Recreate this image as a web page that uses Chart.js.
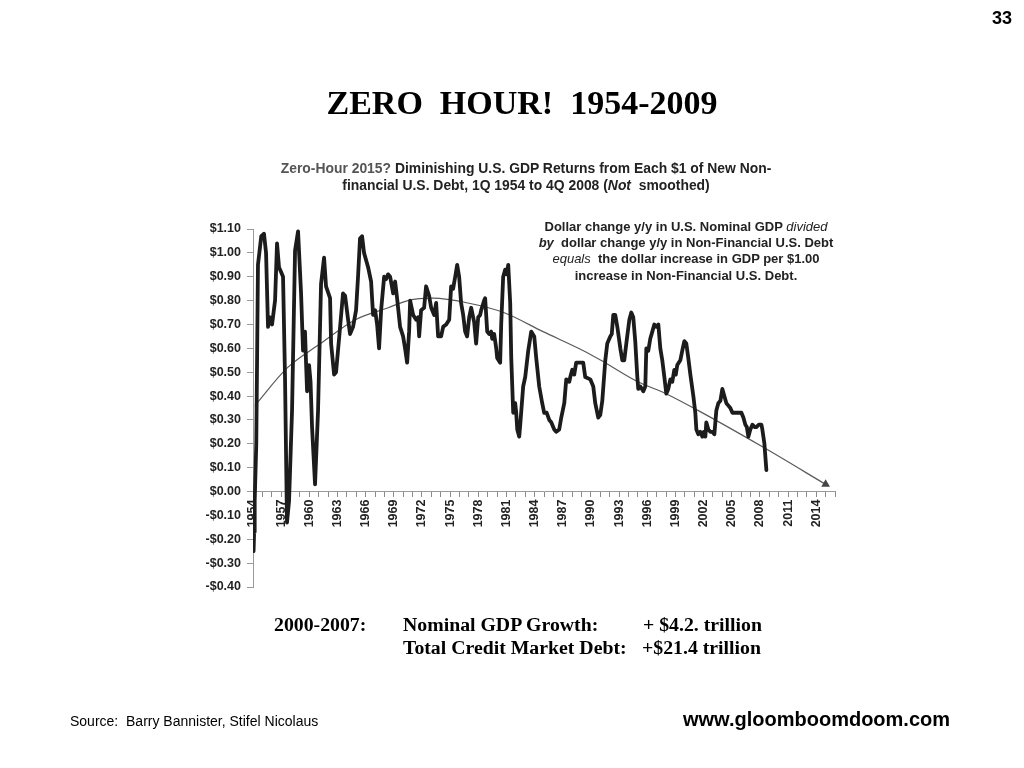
<!DOCTYPE html>
<html>
<head>
<meta charset="utf-8">
<script src="https://cdn.jsdelivr.net/npm/chart.js@4.4.1/dist/chart.umd.min.js"></script>
<style>
  html, body { margin:0; padding:0; background:#fff; }
  body { width:1024px; height:768px; position:relative; overflow:hidden; }
  canvas { position:absolute; left:0; top:0; }
  .t { position:absolute; white-space:nowrap; color:#000; }
  .sans { font-family:"Liberation Sans", Arial, sans-serif; }
  .serif { font-family:"Liberation Serif", "Times New Roman", serif; }
</style>
</head>
<body>
<canvas id="c" width="1024" height="768"></canvas>

<div class="t sans" style="right:12px; top:8px; font-size:18px; font-weight:bold;">33</div>
<div class="t serif" style="left:0; width:1044px; text-align:center; top:83px; font-size:34px; font-weight:bold; line-height:40px;">ZERO&nbsp; HOUR!&nbsp; 1954-2009</div>

<div class="t sans" style="left:0; width:1052px; text-align:center; top:160px; font-size:13.9px; font-weight:bold; line-height:17px; color:#222;">
  <span style="color:#555;">Zero-Hour 2015?</span> Diminishing U.S. GDP Returns from Each $1 of New Non-<br>
  financial U.S. Debt, 1Q 1954 to 4Q 2008 (<i>Not</i>&nbsp; smoothed)
</div>

<div class="t sans" style="left:486px; width:400px; text-align:center; top:219px; font-size:13px; font-weight:bold; line-height:16.2px; color:#222;">
  Dollar change y/y in U.S. Nominal GDP <i style="font-weight:normal;">divided</i><br>
  <i>by</i>&nbsp; dollar change y/y in Non-Financial U.S. Debt<br>
  <i style="font-weight:normal;">equals</i>&nbsp; the dollar increase in GDP per $1.00<br>
  increase in Non-Financial U.S. Debt.
</div>

<div class="t serif" style="left:274px; top:612px; font-size:19.8px; font-weight:bold; line-height:24px;">2000-2007:</div>
<div class="t serif" style="left:403px; top:612px; font-size:19.8px; font-weight:bold; line-height:24px;">Nominal GDP Growth:</div>
<div class="t serif" style="left:643px; top:612px; font-size:19.8px; font-weight:bold; line-height:24px;">+ $4.2. trillion</div>
<div class="t serif" style="left:403px; top:635px; font-size:19.8px; font-weight:bold; line-height:24px;">Total Credit Market Debt:</div>
<div class="t serif" style="left:642px; top:635px; font-size:19.8px; font-weight:bold; line-height:24px;">+$21.4 trillion</div>

<div class="t sans" style="left:70px; top:712px; font-size:14px; line-height:18px;">Source:&nbsp; Barry Bannister, Stifel Nicolaus</div>
<div class="t sans" style="left:683px; top:707px; font-size:20px; font-weight:bold; line-height:25px;">www.gloomboomdoom.com</div>

<script>
// Quarterly-ish observations (decimal year) of GDP $ gained per $1 of new non-financial debt
const dates = [
  1954.00, 1954.06, 1954.12, 1954.18, 1954.35, 1954.53, 1954.88, 1955.17, 1955.39, 1955.60,
  1955.81, 1956.03, 1956.35, 1956.56, 1956.77, 1956.99, 1957.20, 1957.41, 1957.62, 1957.84,
  1958.16, 1958.48, 1958.80, 1959.12, 1959.33, 1959.54, 1959.65, 1959.76, 1959.97, 1960.13,
  1960.29, 1960.61, 1960.93, 1961.25, 1961.57, 1961.78, 1962.21, 1962.32, 1962.64, 1962.85,
  1963.28, 1963.59, 1963.81, 1964.13, 1964.34, 1964.66, 1964.98, 1965.19, 1965.40, 1965.62,
  1965.83, 1966.26, 1966.58, 1966.79, 1967.01, 1967.22, 1967.43, 1967.65, 1967.97, 1968.18,
  1968.39, 1968.61, 1968.93, 1969.14, 1969.35, 1969.67, 1969.99, 1970.20, 1970.42, 1970.63,
  1970.74, 1971.06, 1971.38, 1971.59, 1971.70, 1971.91, 1972.23, 1972.44, 1972.76, 1972.98,
  1973.30, 1973.51, 1973.72, 1974.04, 1974.26, 1974.58, 1974.90, 1975.11, 1975.32, 1975.54,
  1975.75, 1975.96, 1976.17, 1976.39, 1976.60, 1976.81, 1977.03, 1977.24, 1977.56, 1977.77,
  1977.99, 1978.20, 1978.31, 1978.62, 1978.73, 1978.95, 1979.16, 1979.37, 1979.48, 1979.69,
  1979.91, 1980.01, 1980.33, 1980.44, 1980.65, 1980.87, 1981.03, 1981.19, 1981.40, 1981.51,
  1981.72, 1981.93, 1982.04, 1982.15, 1982.36, 1982.47, 1982.78, 1983.00, 1983.32, 1983.64,
  1983.96, 1984.17, 1984.49, 1984.81, 1985.02, 1985.29, 1985.56, 1985.77, 1986.09, 1986.30,
  1986.62, 1986.84, 1987.16, 1987.37, 1987.69, 1987.80, 1988.01, 1988.22, 1988.43, 1988.65,
  1988.97, 1989.18, 1989.39, 1989.93, 1990.25, 1990.46, 1990.78, 1990.99, 1991.21, 1991.53,
  1991.74, 1992.06, 1992.22, 1992.38, 1992.59, 1992.81, 1993.13, 1993.34, 1993.55, 1993.77,
  1994.09, 1994.30, 1994.51, 1994.72, 1994.94, 1995.04, 1995.26, 1995.58, 1995.79, 1995.90,
  1996.11, 1996.32, 1996.54, 1996.75, 1996.96, 1997.18, 1997.39, 1997.60, 1997.82, 1998.03,
  1998.24, 1998.46, 1998.67, 1998.88, 1999.04, 1999.20, 1999.52, 1999.73, 1999.95, 2000.16,
  2000.37, 2000.59, 2000.91, 2001.12, 2001.23, 2001.44, 2001.65, 2001.87, 2002.03, 2002.19,
  2002.29, 2002.51, 2002.72, 2002.93, 2003.15, 2003.36, 2003.57, 2003.79, 2004.00, 2004.21,
  2004.43, 2004.64, 2004.85, 2005.07, 2005.28, 2005.49, 2005.81, 2006.03, 2006.24, 2006.45,
  2006.61, 2006.77, 2006.98, 2007.20, 2007.46, 2007.62, 2007.89, 2008.16, 2008.26, 2008.48,
  2008.69
];
const ratio = [
  -0.15, -0.25, -0.17, -0.04, 0.20, 0.95, 1.07, 1.08, 1.00, 0.69,
  0.73, 0.70, 0.80, 1.04, 0.94, 0.92, 0.90, 0.48, -0.13, -0.04,
  0.34, 1.01, 1.09, 0.83, 0.59, 0.67, 0.54, 0.42, 0.53, 0.46,
  0.27, 0.03, 0.34, 0.87, 0.98, 0.86, 0.81, 0.62, 0.49, 0.50,
  0.69, 0.83, 0.82, 0.72, 0.66, 0.69, 0.76, 0.90, 1.06, 1.07,
  1.00, 0.94, 0.88, 0.74, 0.76, 0.70, 0.60, 0.76, 0.90, 0.89,
  0.91, 0.90, 0.83, 0.88, 0.81, 0.69, 0.65, 0.60, 0.54, 0.67,
  0.80, 0.74, 0.72, 0.73, 0.65, 0.76, 0.77, 0.86, 0.82, 0.77,
  0.74, 0.79, 0.65, 0.65, 0.69, 0.70, 0.72, 0.86, 0.85, 0.90,
  0.95, 0.90, 0.79, 0.74, 0.67, 0.65, 0.73, 0.77, 0.71, 0.62,
  0.73, 0.74, 0.76, 0.80, 0.81, 0.67, 0.66, 0.67, 0.64, 0.66,
  0.60, 0.56, 0.54, 0.70, 0.90, 0.93, 0.91, 0.95, 0.79, 0.56,
  0.33, 0.37, 0.33, 0.26, 0.23, 0.28, 0.44, 0.48, 0.59, 0.67,
  0.65, 0.56, 0.44, 0.37, 0.33, 0.33, 0.30, 0.29, 0.26, 0.25,
  0.26, 0.31, 0.37, 0.47, 0.46, 0.48, 0.51, 0.49, 0.54, 0.54,
  0.54, 0.54, 0.48, 0.47, 0.44, 0.37, 0.31, 0.32, 0.38, 0.55,
  0.62, 0.65, 0.66, 0.74, 0.74, 0.69, 0.60, 0.55, 0.55, 0.62,
  0.72, 0.75, 0.73, 0.63, 0.48, 0.43, 0.44, 0.42, 0.44, 0.60,
  0.59, 0.64, 0.67, 0.70, 0.69, 0.70, 0.60, 0.55, 0.48, 0.41,
  0.43, 0.47, 0.46, 0.51, 0.49, 0.53, 0.55, 0.59, 0.63, 0.62,
  0.56, 0.49, 0.40, 0.33, 0.26, 0.24, 0.25, 0.23, 0.25, 0.23,
  0.29, 0.26, 0.25, 0.25, 0.24, 0.34, 0.37, 0.38, 0.43, 0.40,
  0.37, 0.36, 0.35, 0.33, 0.33, 0.33, 0.33, 0.33, 0.31, 0.28,
  0.27, 0.23, 0.26, 0.28, 0.27, 0.27, 0.28, 0.28, 0.26, 0.20,
  0.09
];
// Polynomial trend line, ending with a marker in 2015
const trendYears  = [1954.2, 1957.7, 1961.2, 1964.9, 1968.4, 1970.5, 1973.2, 1976.9, 1980.7, 1984.9, 1989.2, 1991.5, 1995.0, 1998.0, 2001.4, 2008.6, 2015.0];
const trendValues = [0.36,   0.52,   0.62,   0.72,   0.77,   0.80,   0.81,   0.79,   0.75,   0.67,   0.59,   0.54,   0.46,   0.41,   0.34,   0.18,   0.03];
// Axis tick settings
const xFirstYear = 1954, xLastYear = 2016, xLabelStep = 3;
const yMin = -0.40, yMax = 1.10, yStep = 0.10;

const series = dates.map((d, i) => ({ x: d, y: ratio[i] }));
const trend = trendYears.map((d, i) => ({ x: d, y: trendValues[i] }));
const tickFont = { family: "'Liberation Sans', Arial, sans-serif", size: 12.5, weight: 'bold' };

new Chart(document.getElementById('c'), {
  type: 'line',
  data: {
    datasets: [
      {
        data: trend,
        borderColor: '#5a5a5a',
        backgroundColor: '#444',
        borderWidth: 1.2,
        tension: 0.4,
        cubicInterpolationMode: 'monotone',
        pointStyle: 'triangle',
        pointRadius: (ctx) => ctx.dataIndex === trend.length - 1 ? 5 : 0,
        pointBorderWidth: 0,
        order: 2
      },
      {
        data: series,
        borderColor: '#1c1c1c',
        borderWidth: 3.8,
        borderJoinStyle: 'round',
        borderCapStyle: 'round',
        tension: 0,
        pointRadius: 0,
        order: 1
      }
    ]
  },
  options: {
    responsive: false,
    animation: false,
    layout: { padding: { left: 190, top: 229, right: 189, bottom: 181 } },
    plugins: { legend: { display: false }, tooltip: { enabled: false }, title: { display: false } },
    scales: {
      x: {
        type: 'linear',
        position: { y: 0 },
        min: xFirstYear,
        max: xLastYear,
        afterBuildTicks: (scale) => {
          const t = [];
          for (let v = xFirstYear; v <= xLastYear; v++) t.push({ value: v });
          scale.ticks = t;
        },
        ticks: {
          autoSkip: false,
          minRotation: 90,
          maxRotation: 90,
          padding: 3,
          color: '#222',
          font: tickFont,
          callback: (v) => ((v - xFirstYear) % xLabelStep === 0 && v <= 2014) ? String(v) : ''
        },
        grid: { drawOnChartArea: false, tickLength: 5, color: '#8a8a8a' },
        border: { color: '#9a9a9a', width: 1 }
      },
      y: {
        min: yMin,
        max: yMax,
        afterFit: (scale) => { scale.width = 63; },
        ticks: {
          stepSize: yStep,
          padding: 6,
          color: '#222',
          font: tickFont,
          callback: (v) => {
            const a = Math.abs(v) < 1e-9 ? 0 : v;
            return (a < 0 ? '-$' : '$') + Math.abs(a).toFixed(2);
          }
        },
        grid: { drawOnChartArea: false, tickLength: 6, color: '#9a9a9a' },
        border: { color: '#9a9a9a', width: 1 }
      }
    }
  }
});
</script>
</body>
</html>
